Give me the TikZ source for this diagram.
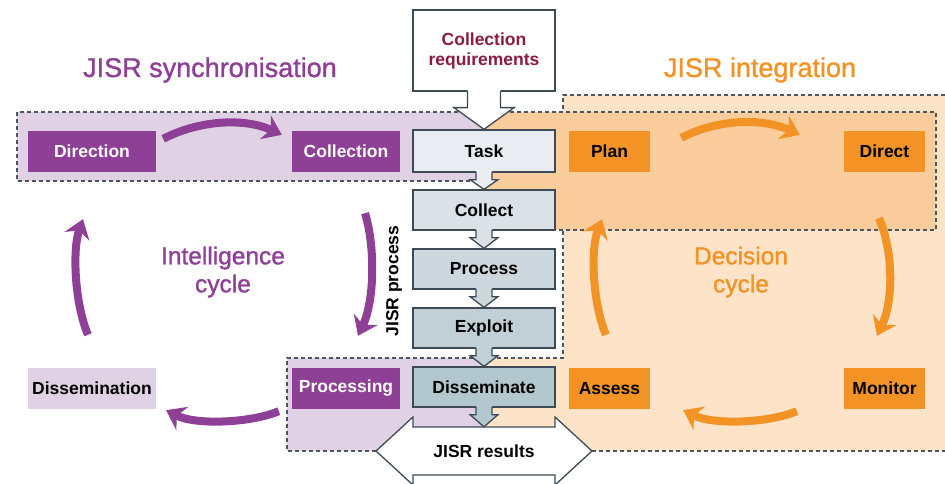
\documentclass[tikz,border=0pt]{standalone}
\usepackage{fontspec}
\setmainfont{Liberation Sans}
\newfontfamily\medfont[FakeBold=1.2]{Liberation Sans}
\usetikzlibrary{arrows.meta,positioning,calc}
\definecolor{jpurple}{HTML}{8E3F96}
\definecolor{jlilac}{HTML}{E1D1E5}
\definecolor{jorange}{HTML}{F39325}
\definecolor{jpeach}{HTML}{FBCD9C}
\definecolor{jcream}{HTML}{FDE4C9}
\definecolor{jslate}{HTML}{3D4B57}
\definecolor{jdash}{HTML}{4B5661}
\definecolor{jred}{HTML}{8C1C3F}
\definecolor{stageA}{HTML}{E9EDF1}
\definecolor{stageB}{HTML}{DBE2E7}
\definecolor{stageC}{HTML}{CDD8DE}
\definecolor{stageD}{HTML}{C1D0D7}
\definecolor{stageE}{HTML}{B3C7CE}
\tikzset{boldtext/.style={font=\fontsize{17.5}{20}\selectfont\bfseries},
tag/.style={rectangle, boldtext, minimum height=41pt, inner sep=0pt},
synchbox/.style={tag, fill=jpurple, text=white},
integbox/.style={tag, fill=jorange, text=black},
stagebox/.style={rectangle, boldtext, draw=jslate, line width=1.3pt, minimum width=142pt, minimum height=40pt, inner sep=0pt, text=black},
outline/.style={draw=jslate, line width=1.3pt},
area/.style={draw=jdash, line width=1.2pt, dash pattern=on 4pt off 3pt},
bigtitle/.style={font=\medfont\fontsize{27}{30}\selectfont},
cyctext/.style={font=\medfont\fontsize{24.5}{28}\selectfont, align=center},
pcycle/.style={jpurple, line width=8pt, -{Stealth[length=18pt,width=26pt,inset=6pt]}},
ocycle/.style={pcycle, jorange}}

\begin{document}
\begin{tikzpicture}[x=1pt,y=-1pt]
\useasboundingbox (0,0) rectangle (945,484);
% areas behind
\fill[jcream] (484,358) -- (563,358) -- (563,95) -- (945,95) -- (945,451) -- (484,451) -- cycle;
\fill[jlilac] (287,358) rectangle (484,451);
\draw[area] (376,451) -- (287,451) -- (287,358) -- (563,358) -- (563,95) -- (945,95);
\draw[area] (592,451) -- (945,451);
\fill[jlilac] (17,112) rectangle (484,181);
\fill[jpeach] (484,112) rectangle (936,230);
\draw[area] (484,181) -- (17,181) -- (17,112) -- (936,112) -- (936,230) -- (555,230);

\node[bigtitle, text=jpurple, anchor=base] (synch) at (210,77) {JISR synchronisation};
\node[bigtitle, text=jorange, anchor=base] (integ) at (760,77) {JISR integration};
\node[cyctext, text=jpurple] (intel) at (223,272) {Intelligence\\cycle};
\node[cyctext, text=jorange] (decis) at (741,272) {Decision\\cycle};

% results
\draw[outline, fill=white] (413,427) -- (413,417) -- (376,451) -- (413,485) -- (413,475) -- (555,475) -- (555,485) -- (592,451) -- (555,417) -- (555,427) -- cycle;
\node[boldtext, minimum width=142pt, minimum height=48pt, inner sep=0pt] (results) at (484,451) {JISR results};

% JISR process
\node[stagebox, fill=white, minimum height=81pt, text=jred, align=center] (creq) at (484,50.5) {Collection\\requirements};
\node[stagebox, fill=stageA, minimum height=42pt] (task) at (484,151) {Task};
\node[stagebox, fill=stageB, below=16.7pt of task] (collect) {Collect};
\node[stagebox, fill=stageC, below=17.7pt of collect] (process) {Process};
\node[stagebox, fill=stageD, below=17.7pt of process] (exploit) {Exploit};
\node[stagebox, fill=stageE, below=17.7pt of exploit] (dissem) {Disseminate};
\node[boldtext, rotate=90] (jisrproc) at (394,281) {JISR process};

\fill[white] ($(creq.south)+(-16.5,-2.5)$) -- ($(creq.south)+(-16.5,16)$) -- ($(creq.south)+(-30,16)$) -- (task.north) -- ($(creq.south)+(30,16)$) -- ($(creq.south)+(16.5,16)$) -- ($(creq.south)+(16.5,-2.5)$) -- cycle;
\draw[outline] ($(creq.south)+(-16.5,-0.7)$) -- ($(creq.south)+(-16.5,16)$) -- ($(creq.south)+(-30,16)$) -- (task.north) -- ($(creq.south)+(30,16)$) -- ($(creq.south)+(16.5,16)$) -- ($(creq.south)+(16.5,-0.7)$);
\foreach \a/\b/\c in {task/collect/stageA, collect/process/stageB, process/exploit/stageC, exploit/dissem/stageD, dissem/results/stageE}{
  \fill[\c] ($(\a.south)+(-8,-2.5)$) -- ($(\a.south)+(-8,7)$) -- ($(\a.south)+(-14,7)$) -- (\b.north) -- ($(\a.south)+(14,7)$) -- ($(\a.south)+(8,7)$) -- ($(\a.south)+(8,-2.5)$) -- cycle;
  \draw[outline] ($(\a.south)+(-8,-0.7)$) -- ($(\a.south)+(-8,7)$) -- ($(\a.south)+(-14,7)$) -- (\b.north) -- ($(\a.south)+(14,7)$) -- ($(\a.south)+(8,7)$) -- ($(\a.south)+(8,-0.7)$);
}

% intelligence cycle
\node[synchbox, minimum width=128pt] (direction) at (92,151.5) {Direction};
\node[synchbox, minimum width=108pt] (collection) at (346,151.5) {Collection};
\node[synchbox, minimum width=108pt] (processing) at (346,388.5) {Processing};
\node[tag, fill=jlilac, minimum width=128pt] (dissemination) at (92,388.5) {Dissemination};
\draw[pcycle] ([shift={(7,8)}]direction.north east) .. controls +(37,-19) and +(-37,-17) .. ([shift={(-10,4)}]collection.north west);
\draw[pcycle] ([shift={(19,41)}]collection.south) .. controls +(10,32) and +(17,-36) .. ([shift={(12,-32)}]processing.north);
\draw[pcycle] ([shift={(-13,2)}]processing.south west) .. controls +(-29,12) and +(29,15) .. ([shift={(10,1)}]dissemination.south east);
\draw[pcycle] ([shift={(-4,-33)}]dissemination.north) .. controls +(-13,-30) and +(-11,31) .. ([shift={(-9,47)}]direction.south);

% decision cycle
\node[integbox, minimum width=81pt] (plan) at (609.5,151.5) {Plan};
\node[integbox, minimum width=81pt] (direct) at (884.5,151.5) {Direct};
\node[integbox, minimum width=81pt] (monitor) at (884.5,388.5) {Monitor};
\node[integbox, minimum width=81pt] (assess) at (609.5,388.5) {Assess};
\draw[ocycle] ([shift={(31,7)}]plan.north east) .. controls +(37,-19) and +(-37,-17) .. ([shift={(-44,4)}]direct.north west);
\draw[ocycle] ([shift={(-5.5,46)}]direct.south) .. controls +(14,32) and +(17,-36) .. ([shift={(-7.5,-32)}]monitor.north);
\draw[ocycle] ([shift={(-47,2)}]monitor.south west) .. controls +(-29,12) and +(30,15) .. ([shift={(33,1)}]assess.south east);
\draw[ocycle] ([shift={(-3.5,-33)}]assess.north) .. controls +(-13,-30) and +(-12,31) .. ([shift={(-7.5,47)}]plan.south);
\end{tikzpicture}
\end{document}
